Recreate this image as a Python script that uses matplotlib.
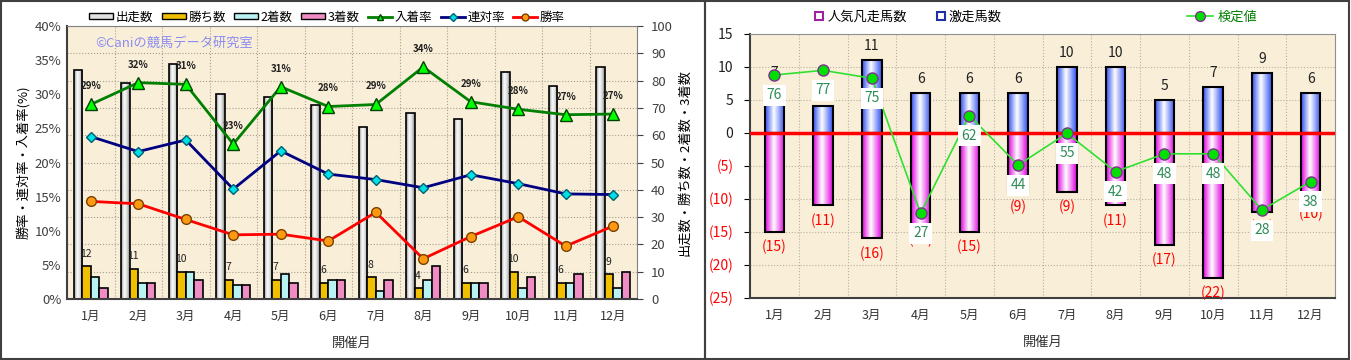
import numpy as np
import matplotlib
matplotlib.use("Agg")
import matplotlib.pyplot as plt
from matplotlib.colors import LinearSegmentedColormap
from matplotlib.patches import Patch, Rectangle
from matplotlib.lines import Line2D

plt.rcParams['font.family'] = ['Noto Sans CJK JP', 'DejaVu Sans']

## ---- data ---- ##
months = ["1月", "2月", "3月", "4月", "5月", "6月", "7月", "8月", "9月", "10月", "11月", "12月"]

# left chart (counts, right axis)
starts  = [84, 79, 86, 75, 74, 71, 63, 68, 66, 83, 78, 85]
wins    = [12, 11, 10, 7, 7, 6, 8, 4, 6, 10, 6, 9]
seconds = [8, 6, 10, 5, 9, 7, 3, 7, 6, 4, 6, 4]
thirds  = [4, 6, 7, 5, 6, 7, 7, 12, 6, 8, 9, 10]

# left chart (rates %, left axis)
place_rate    = [28.5, 31.7, 31.45, 22.7, 31.1, 28.2, 28.5, 34.0, 28.9, 27.8, 27.0, 27.1]
place_labels  = ["29%", "32%", "31%", "23%", "31%", "28%", "29%", "34%", "29%", "28%", "27%", "27%"]
quinella_rate = [23.8, 21.6, 23.3, 16.1, 21.7, 18.3, 17.5, 16.3, 18.2, 16.9, 15.4, 15.3]
win_rate      = [14.3, 13.95, 11.65, 9.4, 9.5, 8.5, 12.7, 5.9, 9.15, 12.05, 7.75, 10.7]

# right chart
gekisou = [7, 4, 11, 6, 6, 6, 10, 10, 5, 7, 9, 6]          # 激走馬数
bonsou  = [15, 11, 16, 14, 15, 9, 9, 11, 17, 22, 12, 10]    # 人気凡走馬数 (drawn below 0)
kentei_pos    = [8.74, 9.45, 8.24, -12.2, 2.6, -4.9, -0.1, -5.9, -3.2, -3.2, -11.7, -7.4]
kentei_labels = [76, 77, 75, 27, 62, 44, 55, 42, 48, 48, 28, 38]

BG = "#F9EFD9"
W, H = 1351, 360


def grad_bars(ax, bars, colors, stops=None):
    cmap = LinearSegmentedColormap.from_list("g", list(zip(stops, colors)) if stops else colors)
    grad = np.linspace(0, 1, 64).reshape(1, -1)
    for b in bars:
        x, y = b.get_xy()
        w, h = b.get_width(), b.get_height()
        im = ax.imshow(grad, extent=[x, x + w, y, y + h], cmap=cmap, aspect="auto",
                       interpolation="bicubic", zorder=b.get_zorder() - 0.01)
        im.set_clip_path(b)
        b.set_facecolor("none")


fig = plt.figure(figsize=(W / 100, H / 100), dpi=100)
fig.patch.set_facecolor("white")

# panel frames
fig.patches.append(Rectangle((1 / W, 1 / H), 704 / W, 358 / H, transform=fig.transFigure,
                             fill=False, edgecolor="#404040", linewidth=1.5))
fig.patches.append(Rectangle((705 / W, 1 / H), 644 / W, 358 / H, transform=fig.transFigure,
                             fill=False, edgecolor="#404040", linewidth=1.5))

##################################
## ---- left chart ---- ##
##################################
ax = fig.add_axes([67 / W, 61 / H, 570 / W, 273 / H])
ax.set_facecolor(BG)
ax2 = ax.twinx()
x = np.arange(len(months))
bw = 0.18

b_st = ax.bar(x - 0.27, starts, bw, edgecolor="black", linewidth=1.2, zorder=2)
grad_bars(ax, b_st, ["#8A8A8A", "#FFFFFF", "#D8D8D8", "#7A7A7A"], [0, 0.35, 0.7, 1])
ax.bar(x - 0.09, wins, bw, color="#F0C000", edgecolor="black", linewidth=1.2, zorder=2)
ax.bar(x + 0.09, seconds, bw, color="#B8F2F2", edgecolor="black", linewidth=1.2, zorder=2)
ax.bar(x + 0.27, thirds, bw, color="#F08CC4", edgecolor="black", linewidth=1.2, zorder=2)
for xi, v in zip(x, wins):
    ax.annotate(str(v), (xi - 0.11, v), xytext=(0, 9), textcoords="offset points",
                ha="center", va="center", fontsize=7.5, color="#202020", zorder=3)

ax.set_xlim(-0.5, 11.5)
ax.set_ylim(0, 100)
ax.set_yticks(np.arange(0, 101, 10))
ax.set_xticks(x)
ax.set_xticklabels(months)
ax.set_xticks(np.arange(-0.5, 12, 1), minor=True)
ax.grid(True, which="minor", axis="x", color="#A8A090", linestyle=":", linewidth=0.8)
ax.grid(True, which="major", axis="y", color="#A8A090", linestyle=":", linewidth=0.8)
ax.set_axisbelow(True)
ax.tick_params(axis="x", which="both", length=0, labelsize=9, colors="#333333", pad=8)
ax.set_xlabel("開催月", fontsize=9.5, color="#333333", labelpad=10)
for s in ax.spines.values():
    s.set_color("#808080")
ax.spines["left"].set_color("#404040")
ax.spines["left"].set_linewidth(1.5)
ax.spines["bottom"].set_color("#404040")
ax.spines["bottom"].set_linewidth(1.5)

# counts on the right, rates on the left (set after twinx)
ax.yaxis.tick_right()
ax.yaxis.set_label_position("right")
ax.tick_params(axis="y", length=4, labelsize=9.5, colors="#404040", pad=6)
ax.set_ylabel("出走数・勝ち数・2着数・3着数", fontsize=9.5, labelpad=4)

ax2.yaxis.tick_left()
ax2.yaxis.set_label_position("left")
ax2.set_ylim(0, 40)
ax2.set_yticks(np.arange(0, 41, 5))
ax2.set_yticklabels([f"{v}%" for v in range(0, 41, 5)])
ax2.tick_params(axis="y", length=0, labelsize=9.5, colors="#404040", pad=4)
ax2.set_ylabel("勝率・連対率・入着率(%)", fontsize=9.5, labelpad=3)
for s in ax2.spines.values():
    s.set_visible(False)

ax2.plot(x, place_rate, color="#008000", linewidth=2, marker="^", markersize=8,
         markerfacecolor="#00FF00", markeredgecolor="#004000", zorder=4)
ax2.plot(x, quinella_rate, color="#000080", linewidth=2, marker="D", markersize=5.5,
         markerfacecolor="#00E0E8", markeredgecolor="#006070", zorder=4)
ax2.plot(x, win_rate, color="#FF0000", linewidth=2, marker="o", markersize=7,
         markerfacecolor="#FF9A10", markeredgecolor="#7A4000", zorder=4)
for xi, v, lab in zip(x, place_rate, place_labels):
    ax2.annotate(lab, (xi, v), xytext=(0, 13), textcoords="offset points", ha="center",
                 va="center", fontsize=7, fontweight="bold", color="#202020", zorder=5)

ax2.text(0.05, 0.935, "©Caniの競馬データ研究室", transform=ax2.transAxes, fontsize=9.5,
         color="#8C8CF0", va="center", ha="left")

handles = [
    Patch(facecolor="#E0E0E0", edgecolor="black"),
    Patch(facecolor="#F0C000", edgecolor="black"),
    Patch(facecolor="#B8F2F2", edgecolor="black"),
    Patch(facecolor="#F08CC4", edgecolor="black"),
    Line2D([], [], color="#008000", lw=2, marker="^", markersize=5, markerfacecolor="#00FF00", markeredgecolor="#004000"),
    Line2D([], [], color="#000080", lw=2, marker="D", markersize=4, markerfacecolor="#00E0E8", markeredgecolor="#006070"),
    Line2D([], [], color="#FF0000", lw=2, marker="o", markersize=5, markerfacecolor="#FF9A10", markeredgecolor="#7A4000"),
]
fig.legend(handles, ["出走数", "勝ち数", "2着数", "3着数", "入着率", "連対率", "勝率"],
           loc="center", bbox_to_anchor=(327 / W, 1 - 17 / H), ncol=7, frameon=False,
           fontsize=9, handlelength=1.9, handleheight=0.45, columnspacing=0.7, handletextpad=0.2)

##################################
## ---- right chart ---- ##
##################################
bx = fig.add_axes([750 / W, 62.3 / H, 585 / W, 264 / H])
bx.set_facecolor(BG)
b_up = bx.bar(x, gekisou, 0.4, edgecolor="black", linewidth=1.5, zorder=2)
grad_bars(bx, b_up, ["#3050F0", "#FFFFFF", "#3050F0"], [0, 0.45, 1])
b_dn = bx.bar(x, [-v for v in bonsou], 0.4, edgecolor="black", linewidth=1.5, zorder=2)
grad_bars(bx, b_dn, ["#E000E0", "#FFFFFF", "#E000E0"], [0, 0.45, 1])
bx.axhline(0, color="#FF0000", linewidth=2.5, zorder=3)

for xi, v in zip(x, gekisou):
    bx.annotate(str(v), (xi, v), xytext=(0, 10), textcoords="offset points", ha="center",
                va="center", fontsize=10, color="#202020", zorder=3)
for xi, v in zip(x, bonsou):
    bx.annotate(f"({v})", (xi, -v), xytext=(0, -11), textcoords="offset points", ha="center",
                va="center", fontsize=10, color="#FF0000", zorder=3)

bx.plot(x, kentei_pos, color="#30E030", linewidth=1.2, marker="o", markersize=8,
        markerfacecolor="#00E000", markeredgecolor="#803090", zorder=4)
for xi, v, lab in zip(x, kentei_pos, kentei_labels):
    bx.annotate(str(lab), (xi, v), xytext=(0, -14.5), textcoords="offset points", ha="center",
                va="center", fontsize=10, color="#2E8B57", zorder=5,
                bbox=dict(boxstyle="square,pad=0.25", facecolor="white", edgecolor="none"))

bx.set_xlim(-0.5, 11.5)
bx.set_ylim(-25, 15)
yt = np.arange(-25, 16, 5)
bx.set_yticks(yt)
bx.set_yticklabels([f"({-v})" if v < 0 else str(v) for v in yt])
for lab, v in zip(bx.get_yticklabels(), yt):
    lab.set_color("#FF0000" if v < 0 else "#202020")
bx.set_xticks(x)
bx.set_xticklabels(months)
bx.set_xticks(np.arange(-0.5, 12, 1), minor=True)
bx.grid(True, which="minor", axis="x", color="#B8B0A0", linestyle=":", linewidth=0.8)
bx.grid(True, which="major", axis="y", color="#B8B0A0", linestyle=":", linewidth=0.8)
bx.set_axisbelow(True)
bx.tick_params(axis="x", which="both", length=0, labelsize=9, colors="#333333", pad=8)
bx.tick_params(axis="y", length=4, labelsize=10, pad=8)
bx.set_xlabel("開催月", fontsize=9.5, color="#333333", labelpad=10)
for s in bx.spines.values():
    s.set_color("#909090")
bx.spines["left"].set_color("#404040")
bx.spines["left"].set_linewidth(1.5)
bx.spines["bottom"].set_color("#404040")
bx.spines["bottom"].set_linewidth(1.5)

sq = dict(marker="s", linestyle="none", markersize=5.5, markerfacecolor="white", markeredgewidth=1.5)
fig.legend([Line2D([], [], markeredgecolor="#A020A0", **sq), Line2D([], [], markeredgecolor="#2030A0", **sq)],
           ["人気凡走馬数", "激走馬数"], loc="center", bbox_to_anchor=(908 / W, 1 - 17 / H), ncol=2,
           frameon=False, fontsize=9.5, handlelength=0.8, handletextpad=0.2, columnspacing=2.2)
leg3 = fig.legend([Line2D([], [], color="#30E030", lw=1.2, marker="o", markersize=7,
                          markerfacecolor="#00E000", markeredgecolor="#803090")],
                  ["検定値"], loc="center", bbox_to_anchor=(1222 / W, 1 - 17 / H), frameon=False,
                  fontsize=9.5, handlelength=2.0, handletextpad=0.3)
for t in leg3.get_texts():
    t.set_color("#008000")

fig.savefig("out.png", dpi=100, facecolor="white")
